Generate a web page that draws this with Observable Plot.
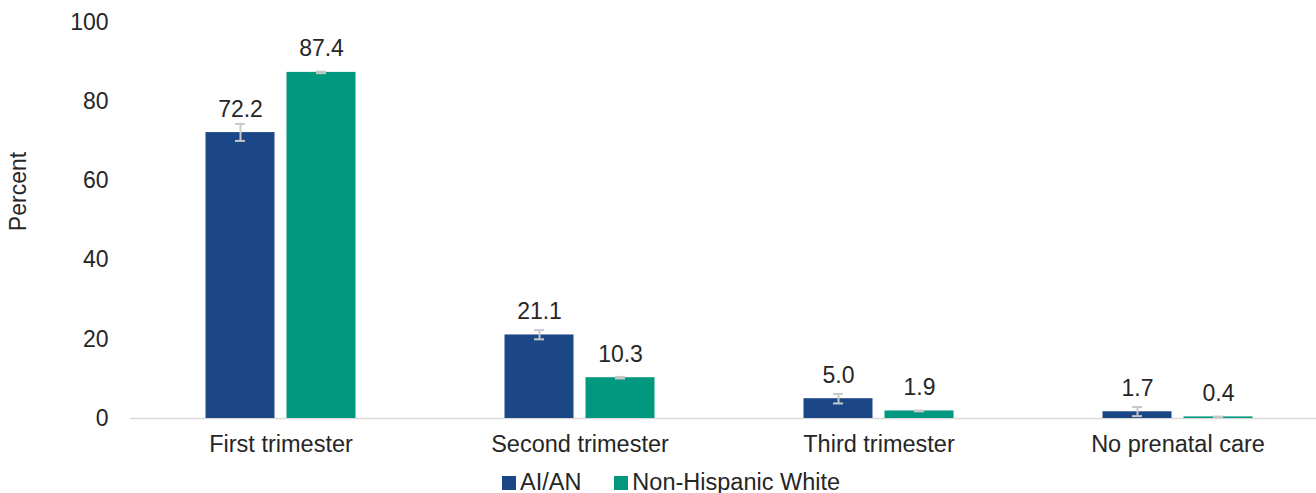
<!DOCTYPE html>
<html>
<head>
<meta charset="utf-8">
<script src="https://cdn.jsdelivr.net/npm/d3@7"></script>
<script src="https://cdn.jsdelivr.net/npm/@observablehq/plot@0.6"></script>
<style>
  body { margin: 0; background: #fff; font-family: "Liberation Sans", Arial, sans-serif; color: #262626; overflow: hidden; }
  #legend { display: flex; justify-content: center; padding-left: 26px; padding-top: 9px; font-size: 23.5px; line-height: 23px; height: 31px; box-sizing: border-box; }
  #legend .item { display: inline-flex; align-items: baseline; margin: 0 16.5px; white-space: nowrap; }
  #legend .sw { display: inline-block; width: 14px; height: 14px; margin-right: 4px; }
</style>
</head>
<body>
<div id="chart"></div>
<div id="legend"></div>
<script>
const categories = ["First trimester", "Second trimester", "Third trimester", "No prenatal care"];
const groups = ["AI/AN", "Non-Hispanic White"];
const aianValues = [72.2, 21.1, 5.0, 1.7];
const aianLow = [70.1, 20.0, 3.8, 0.6];
const aianHigh = [74.4, 22.3, 6.2, 2.9];
const nhwValues = [87.4, 10.3, 1.9, 0.4];
const nhwLow = [87.2, 10.1, 1.8, 0.3];
const nhwHigh = [87.6, 10.5, 2.0, 0.5];
const yTicks = [0, 20, 40, 60, 80, 100];
const colors = ["#1b4787", "#00997f"];

const series = [
  {group: groups[0], values: aianValues, low: aianLow, high: aianHigh, dx: -40.5},
  {group: groups[1], values: nhwValues, low: nhwLow, high: nhwHigh, dx: 40.5}
];

const fmt = d3.format(".1f");
const marks = [Plot.ruleY([0], {stroke: "#d9d9d9", strokeWidth: 1.5})];
for (const s of series) {
  const rows = categories.map((c, i) => ({category: c, group: s.group, value: s.values[i], low: s.low[i], high: s.high[i]}));
  marks.push(
    Plot.barY(rows, {x: "category", y: "value", fill: "group", dx: s.dx}),
    Plot.ruleX(rows, {x: "category", y1: "low", y2: "high", dx: s.dx, stroke: "#c8c8c8", strokeWidth: 2}),
    Plot.tickY(rows, {x: "category", y: "low", dx: s.dx, insetLeft: 29.5, insetRight: 29.5, stroke: "#c8c8c8", strokeWidth: 2}),
    Plot.tickY(rows, {x: "category", y: "high", dx: s.dx, insetLeft: 29.5, insetRight: 29.5, stroke: "#c8c8c8", strokeWidth: 2}),
    Plot.text(rows, {x: "category", y: "value", text: d => fmt(d.value), dx: s.dx, dy: -16, lineAnchor: "bottom", fontSize: 23, fill: "#262626"})
  );
}
marks.push(Plot.text(["Percent"], {frameAnchor: "left", textAnchor: "middle", rotate: -90, dx: -112, dy: -29, fontSize: 23, fill: "#262626"}));

const chart = Plot.plot({
  width: 1316,
  height: 462,
  marginTop: 22,
  marginBottom: 44,
  marginLeft: 130,
  marginRight: 0,
  style: {fontSize: "23px", fontFamily: "'Liberation Sans', Arial, sans-serif", color: "#262626", background: "#fff"},
  x: {domain: categories, paddingInner: 0.7696, paddingOuter: 0.3648, align: 0.5286, tickSize: 0, tickPadding: 17, label: null},
  y: {domain: [0, 100], ticks: yTicks, tickSize: 0, tickPadding: 22, label: null},
  color: {domain: groups, range: colors},
  marks
});
d3.select(chart).selectAll("[aria-label='x-axis tick label'] text, [aria-label='x-axis'] text").style("font-size", "23.5px");
document.getElementById("chart").appendChild(chart);

const legend = document.getElementById("legend");
groups.forEach((g, i) => {
  const item = document.createElement("span");
  item.className = "item";
  const sw = document.createElement("span");
  sw.className = "sw";
  sw.style.background = colors[i];
  item.appendChild(sw);
  item.appendChild(document.createTextNode(g));
  legend.appendChild(item);
});
</script>
</body>
</html>
